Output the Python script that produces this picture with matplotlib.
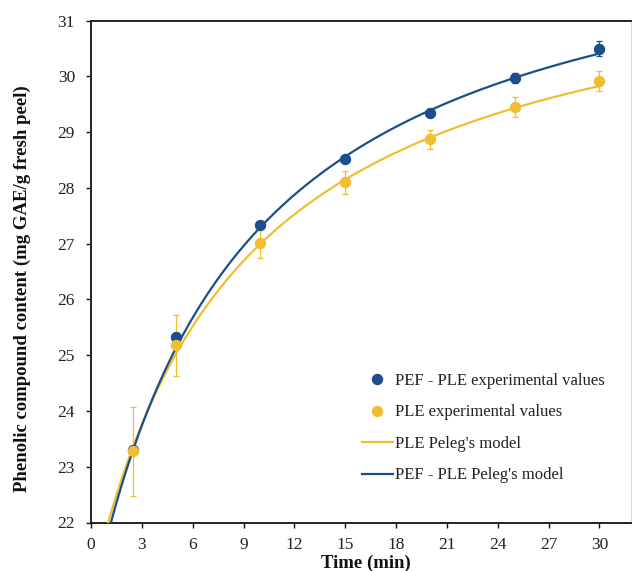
import numpy as np
import matplotlib
matplotlib.use("Agg")
import matplotlib.pyplot as plt
from matplotlib.lines import Line2D

plt.rcParams['font.family'] = ['Liberation Serif', 'DejaVu Serif']

# Data
time_pts = [2.5, 5, 10, 15, 20, 25, 30]
pef_ple = [23.30, 25.32, 27.33, 28.52, 29.35, 29.98, 30.50]
pef_ple_err = [0.05, 0.05, 0.03, 0.03, 0.03, 0.09, 0.13]
ple = [23.28, 25.18, 27.01, 28.10, 28.87, 29.45, 29.92]
ple_err = [0.80, 0.55, 0.27, 0.20, 0.17, 0.18, 0.18]

# Peleg model parameters: C(t) = C0 + t / (k1 + k2 * t)
pef_peleg = dict(C0=20.5, k1=0.693, k2=0.0778)
ple_peleg = dict(C0=20.8, k1=0.758, k2=0.0855)

x_ticks = [0, 3, 6, 9, 12, 15, 18, 21, 24, 27, 30]
y_ticks = [22, 23, 24, 25, 26, 27, 28, 29, 30, 31]

labels = ["PEF - PLE experimental values", "PLE experimental values",
          "PLE Peleg's model", "PEF - PLE Peleg's model"]

BLUE = '#1A4F8B'
YELLOW = '#F0BE30'

def peleg(t, p):
    return p['C0'] + t / (p['k1'] + p['k2'] * t)

fig = plt.figure(figsize=(6.32, 5.71), dpi=100)
ax = fig.add_axes([91/632, 1 - 522.5/571, (631-91)/632, (522.5-20.7)/571])

t = np.linspace(0.5, 30, 400)
ax.plot(t, peleg(t, ple_peleg), color=YELLOW, lw=1.6, zorder=3)
ax.plot(t, peleg(t, pef_peleg), color=BLUE, lw=1.6, zorder=3)

ax.errorbar(time_pts, pef_ple, yerr=pef_ple_err, fmt='o', color=BLUE, ms=7.2,
            elinewidth=0.9, capsize=2.3, capthick=0.9, zorder=4)
ax.errorbar(time_pts, ple, yerr=ple_err, fmt='o', color=YELLOW, ms=7.2,
            elinewidth=0.9, capsize=2.3, capthick=0.9, zorder=4)

ax.set_xlim(0, 31.86)
ax.set_ylim(22, 31)
ax.set_xticks(x_ticks)
ax.set_yticks(y_ticks)
ax.tick_params(axis='both', direction='out', length=3.5, width=1, labelsize=12.5,
               colors='#111111', labelcolor='#222222')
ax.tick_params(axis='y', pad=8)
ax.tick_params(axis='x', pad=7)

for s in ['left', 'bottom', 'top']:
    ax.spines[s].set_color('#111111')
    ax.spines[s].set_linewidth(1.3)
ax.spines['right'].set_color('#D9D9D9')
ax.spines['right'].set_linewidth(0.8)

ax.set_xlabel('Time (min)', fontsize=13.5, fontweight='bold', color='#111111')
ax.set_ylabel('Phenolic compound content (mg GAE/g fresh peel)', fontsize=13.5,
              fontweight='bold', color='#111111')
ax.xaxis.set_label_coords(0.509, -0.065)
ax.yaxis.set_label_coords(-0.111, 0.467)

handles = [
    Line2D([], [], marker='o', ls='none', color=BLUE, ms=7.2),
    Line2D([], [], marker='o', ls='none', color=YELLOW, ms=7.2),
    Line2D([], [], color=YELLOW, lw=1.6),
    Line2D([], [], color=BLUE, lw=1.6),
]
leg = ax.legend(handles, labels, loc='upper left', bbox_to_anchor=(0.502, 0.298), frameon=False,
                fontsize=12, labelspacing=0.93, handlelength=1.85, handletextpad=0.15,
                borderaxespad=0, borderpad=0)
for txt in leg.get_texts():
    txt.set_color('#222222')

fig.savefig('out.png', dpi=100)
